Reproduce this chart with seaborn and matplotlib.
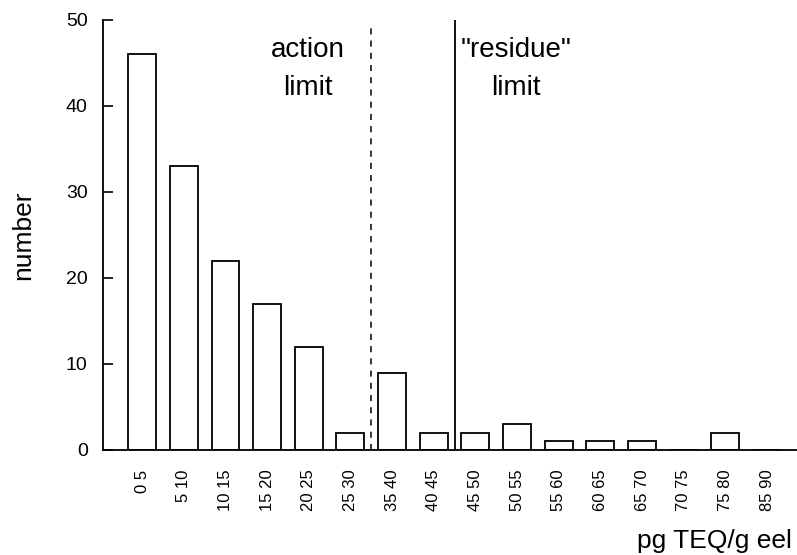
import matplotlib
matplotlib.use("Agg")
import matplotlib.pyplot as plt
import seaborn as sns
import pandas as pd

bins = ["0 5", "5 10", "10 15", "15 20", "20 25", "25 30", "35 40", "40 45",
        "45 50", "50 55", "55 60", "60 65", "65 70", "70 75", "75 80", "85 90"]
counts = [46, 33, 22, 17, 12, 2, 9, 2, 2, 3, 1, 1, 1, 0, 2, 0]
y_ticks = [0, 10, 20, 30, 40, 50]
action_pos = 5.5
residue_pos = 7.5

sns.set_style("white")
plt.rcParams["font.family"] = ["Liberation Sans", "DejaVu Sans"]
plt.rcParams["text.color"] = "black"
plt.rcParams["axes.labelcolor"] = "black"
plt.rcParams["xtick.color"] = "black"
plt.rcParams["ytick.color"] = "black"

df = pd.DataFrame({"bin": bins, "count": counts})

fig = plt.figure(figsize=(7.97, 5.55), dpi=100)
ax = fig.add_axes([103 / 797, 1 - 450 / 555, 1 - 103 / 797, (450 - 20) / 555])

sns.barplot(data=df, x="bin", y="count", order=bins, color="white",
            edgecolor="black", linewidth=1.3, width=0.67, ax=ax, saturation=1)

ax.set_xlim(-0.94, 15.72)
ax.set_ylim(0, 50)
ax.set_yticks(y_ticks)
ax.set_yticklabels([str(t) for t in y_ticks], fontsize=14, color="black")
ax.tick_params(axis="y", direction="in", length=7, width=1.2, pad=11, left=True,
               colors="black")
ax.tick_params(axis="x", length=0, pad=14, colors="black")
for lbl in ax.get_xticklabels():
    lbl.set_rotation(90)
    lbl.set_fontsize(12)
    lbl.set_va("top")
    lbl.set_ha("center")
    lbl.set_color("black")

sns.despine(ax=ax, top=True, right=True)
for side in ("left", "bottom"):
    ax.spines[side].set_linewidth(1.3)
    ax.spines[side].set_color("black")

ax.axvline(action_pos, ymin=0, ymax=0.99, color="black", linestyle=(0, (4, 4)), linewidth=1.1)
ax.axvline(residue_pos, ymin=0, ymax=1.0, color="black", linestyle="-", linewidth=1.3)

ax.text(3.98, 46.5, "action", ha="center", va="center", fontsize=20, color="black")
ax.text(3.98, 42.1, "limit", ha="center", va="center", fontsize=20, color="black")
ax.text(8.98, 46.5, "\"residue\"", ha="center", va="center", fontsize=20, color="black")
ax.text(8.98, 42.1, "limit", ha="center", va="center", fontsize=20, color="black")

ax.set_xlabel("")
ax.set_ylabel("number", fontsize=19, labelpad=22, color="black")
fig.text(792 / 797, 1 - 541 / 555, "pg TEQ/g eel", ha="right", va="center",
         fontsize=19, color="black")

fig.savefig("out.png", dpi=100, facecolor="white")
